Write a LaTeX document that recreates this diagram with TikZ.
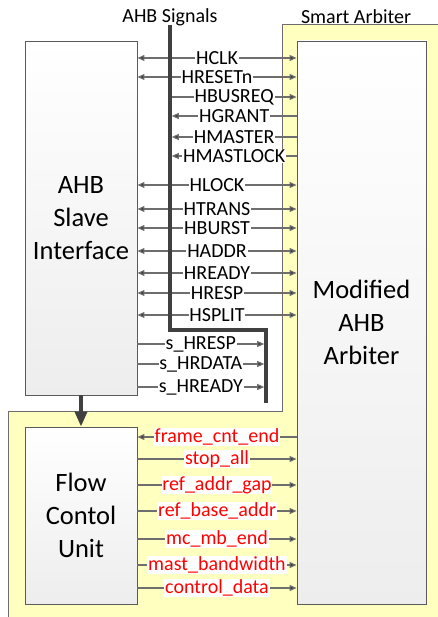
\documentclass[tikz,border=0pt]{standalone}
\usepackage{fontspec}
\setmainfont{Carlito}
\usetikzlibrary{arrows.meta}
\definecolor{ylw}{RGB}{255,255,192}
\definecolor{bdr}{RGB}{90,90,90}
\definecolor{sig}{RGB}{110,110,110}
\definecolor{arr}{RGB}{64,64,64}
\tikzset{
  blk/.style={draw=bdr, line width=0.9pt, top color=white, bottom color=black!7, minimum width=112pt, inner sep=0pt, align=center, font=\fontsize{26.5}{33}\selectfont},
  sigline/.style={draw=sig, line width=1.1pt, -{Triangle[length=7pt,width=6pt,fill=arr]}},
  bisig/.style={draw=sig, line width=1.1pt, {Triangle[length=7pt,width=6pt,fill=arr]}-{Triangle[length=7pt,width=6pt,fill=arr]}},
  lbl/.style={fill=white, inner sep=0.8pt, font=\fontsize{20}{20}\selectfont},
  rlbl/.style={lbl, text=red},
  bus/.style={draw=arr, line width=3.6pt},
  hdr/.style={font=\fontsize{20}{20}\selectfont, inner sep=0pt}
}
\begin{document}
\begin{tikzpicture}[x=1pt,y=-1pt]
\useasboundingbox (0,0) rectangle (438,617);
\clip (0,0) rectangle (438,617);
% yellow region
\fill[ylw] (282,25) -- (445,25) -- (445,625) -- (8,625) -- (8,411) -- (282,411) -- cycle;
\draw[draw=sig, line width=1pt] (445,25) -- (282,25) -- (282,411) -- (8,411) -- (8,625);
% headers
\node[hdr] (hs) at (170,17) {AHB Signals};
\node[hdr] (hsa) at (356,17) {Smart Arbiter};
% boxes
\node[blk, minimum height=354pt] (slave) at (81,218) {AHB\\Slave\\Interface};
\node[blk, minimum width=129pt, minimum height=563pt] (arb) at (361.5,322.5) {Modified\\AHB\\Arbiter};
\node[blk, minimum height=177pt] (fcu) at (81,515.5) {Flow\\Contol\\Unit};
% bus coordinates
\coordinate (btop) at (170,25);
\coordinate (bcorner) at (170,330);
\coordinate (bcorner2) at (266,330);
\coordinate (bbot) at (266,403);
% bidirectional signals
\foreach \nm/\yy in {HCLK/58, HRESETn/77, HLOCK/185, HTRANS/209, HBURST/228, HADDR/251, HREADY/273, HRESP/293, HSPLIT/315}{
  \draw[bisig] (slave.east |- 0,\yy) -- node[lbl] {\nm} (arb.west |- 0,\yy);
}
% bus drawn over
\draw[bus] (btop) -- (bcorner) -- (bcorner2) -- (bbot);
% bus to arbiter
\draw[sigline] (bcorner |- 0,97) ++(1.8,0) -- node[lbl] {HBUSREQ} (arb.west |- 0,97);
% arbiter to bus
\foreach \nm/\yy in {HGRANT/116, HMASTER/137, HMASTLOCK/156}{
  \draw[sigline] (arb.west |- 0,\yy) -- node[lbl] {\nm} ([xshift=1.8pt]bcorner |- 0,\yy);
}
% slave to bus
\foreach \nm/\yy in {s\_HRESP/344, s\_HRDATA/364, s\_HREADY/387}{
  \draw[sigline] (slave.east |- 0,\yy) -- node[lbl] {\nm} ([xshift=-1.8pt]bcorner2 |- 0,\yy);
}
% slave to flow
\draw[draw=arr, line width=3.6pt, -{Triangle[length=15pt,width=12pt]}] (slave.south) -- (fcu.north);
% red signals
\draw[sigline] (arb.west |- 0,437) -- node[rlbl] {frame\_cnt\_end} (fcu.east |- 0,437);
\foreach \nm/\yy in {stop\_all/459, ref\_addr\_gap/485, ref\_base\_addr/511, mc\_mb\_end/539, mast\_bandwidth/565, control\_data/588}{
  \draw[sigline] (fcu.east |- 0,\yy) -- node[rlbl] {\nm} (arb.west |- 0,\yy);
}
\end{tikzpicture}
\end{document}
